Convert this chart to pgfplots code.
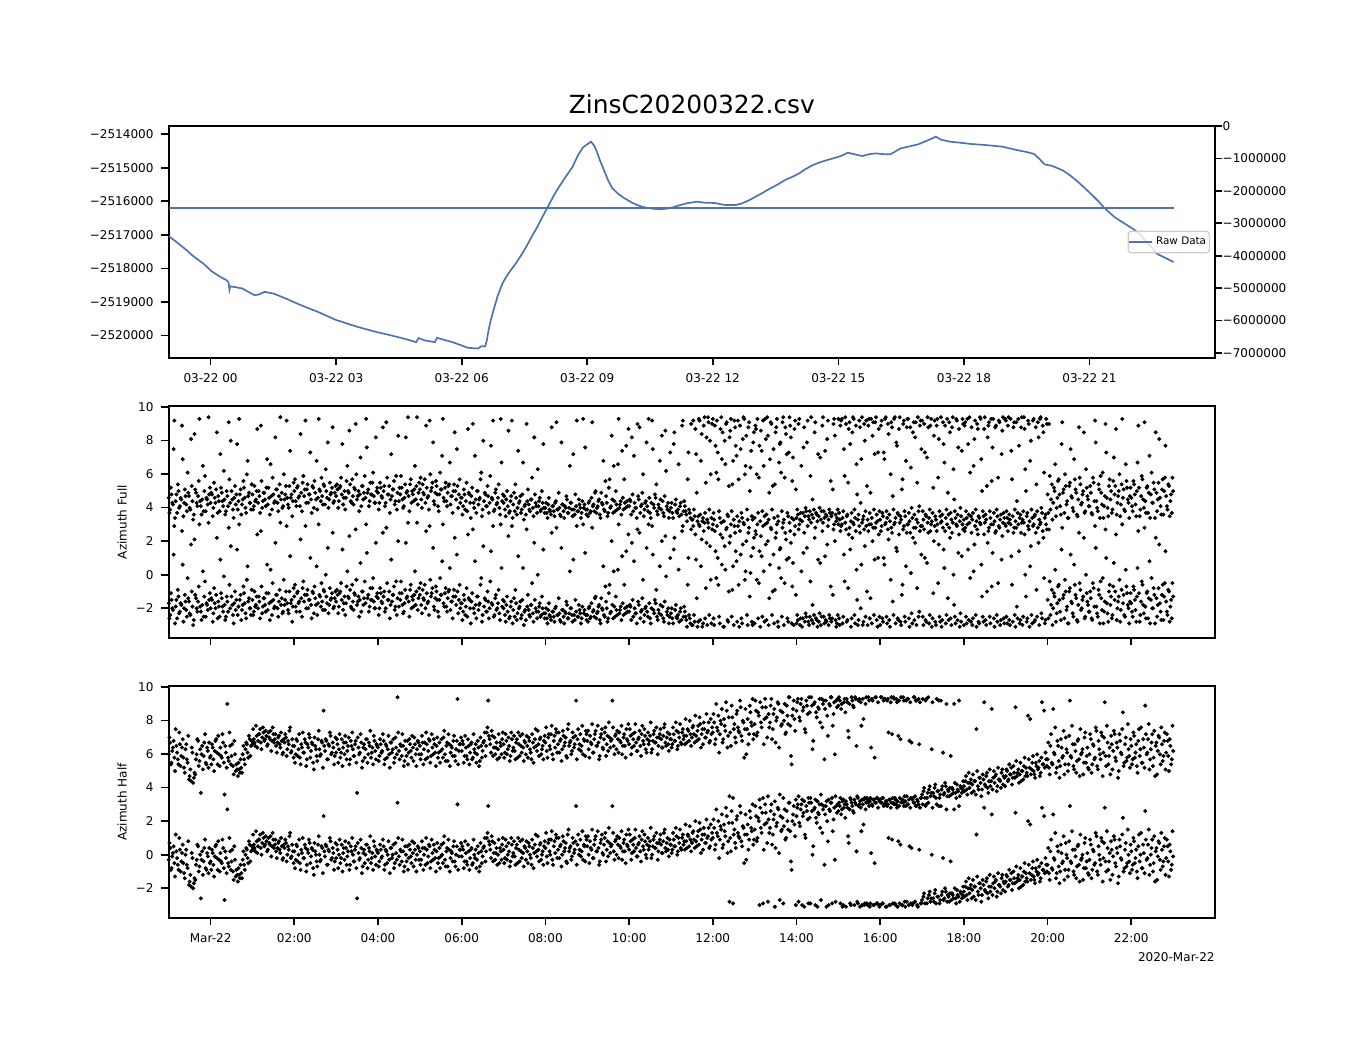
\documentclass[border=0pt]{standalone}
\usepackage{fontspec}
\setmainfont{DejaVu Sans}
\usepackage{pgfplots}
\usepackage{pgfplotstable}
\pgfplotsset{compat=1.18}
\definecolor{sb}{HTML}{4C72B0}
\newcommand\tf{\fontsize{5.8}{7}\selectfont}

\pgfplotstableread{
t f h
-60 -1.7 -0.3
-58 -2.4 0.4
-56 -1.5 -0.8
-54 -2.1 0.1
-52 2.9 -0.5
-50 -1.9 1.2
-48 -2.6 -0.2
-46 -1.3 -0.9
-44 -2.2 0.3
-42 -1.8 -0.4
-40 0.6 0.6
-38 -2.0 -1.1
-36 -1.6 0.0
-34 -2.5 -0.6
-32 -1.4 0.8
-30 -2.3 -1.6
-28 1.8 -1.9
-26 -1.9 -0.2
-24 -2.7 -1.7
-22 -1.2 -1.5
-20 -2.0 -0.3
-18 -1.6 0.5
-16 3.0 -0.7
-14 -2.2 -2.6
-12 -1.8 0.2
-10 -2.5 -0.4
-8 -0.4 0.9
-6 -1.7 -0.9
-4 -2.1 -0.1
-2 -1.5 0.4
0 -2.0 -0.4
2 -1.5 0.3
4 -2.3 -0.6
6 -1.7 -0.1
8 -1.2 0.6
10 -2.6 -0.9
12 -1.9 -0.3
14 0.9 0.1
16 -1.4 -0.5
18 -2.2 0.4
20 -1.8 -2.7
22 -2.5 -0.2
24 -1.6 2.7
26 2.8 -0.7
28 -2.0 0.2
30 -1.3 -0.4
32 -2.4 -1.0
34 -1.7 0.5
36 -2.1 -1.3
38 1.5 -1.2
40 -1.9 -0.8
42 -1.5 -1.4
44 -2.7 -1.1
46 -1.8 -0.3
48 -1.1 -0.6
50 -2.3 0.0
52 -0.3 0.3
54 -1.6 -0.5
56 -2.0 0.6
58 -2.4 0.2
60 -1.5 0.3
62 -2.2 0.6
64 -1.9 0.2
66 -1.3 0.8
68 -2.0 0.5
70 -1.6 0.9
72 2.6 0.4
74 -2.3 0.7
76 -1.4 1.0
78 -1.8 0.6
80 -1.1 0.8
82 -2.1 0.3
84 -1.7 0.7
86 0.3 1.1
88 -2.4 0.5
90 -1.5 0.9
92 -1.9 0.6
94 -1.2 0.2
96 -2.0 0.4
98 -1.6 0.8
100 3.1 0.1
102 -1.4 0.5
104 -2.2 -0.2
106 -1.8 0.4
108 -1.0 0.7
110 -1.7 0.0
112 -2.3 0.3
114 1.1 1.3
116 -1.5 -0.1
118 -1.9 0.2
120 -1.3 0.2
122 -1.9 -0.3
124 -1.1 0.5
126 -1.7 0.0
128 -2.2 -0.5
130 -1.4 0.3
132 -0.8 1.0
134 -1.6 -0.2
136 2.9 0.4
138 -1.2 -0.6
140 -2.0 0.1
142 -1.5 0.7
144 -1.8 -0.1
146 -1.0 0.3
148 -2.3 -1.2
150 -1.4 0.2
152 0.5 -0.4
154 -1.7 0.6
156 -1.2 0.0
158 -1.9 -0.3
160 -1.6 0.4
162 -0.9 2.3
164 -2.1 -0.1
166 -1.3 0.5
168 1.6 -0.6
170 -1.8 0.2
172 -1.5 0.8
174 -1.1 -0.2
176 -2.0 0.1
178 -1.4 -0.4
180 -1.6 -0.2
182 -1.2 0.3
184 -1.9 0.0
186 -1.0 -0.5
188 -1.5 0.6
190 -2.1 0.1
192 -1.3 -0.3
194 -1.7 0.4
196 0.2 -0.1
198 -1.4 0.7
200 -0.9 -0.6
202 -2.0 0.2
204 -1.6 0.0
206 -1.1 -0.4
208 2.7 0.5
210 -1.8 -2.6
212 -1.3 0.1
214 -1.5 -0.2
216 -2.2 0.4
218 -1.0 -0.7
220 -1.4 0.3
222 -1.7 0.0
224 1.3 0.6
226 -1.2 -0.3
228 -1.9 0.2
230 -1.5 -0.5
232 -0.8 0.1
234 -1.6 0.8
236 -2.0 -0.1
238 -1.3 0.3
240 -1.4 0.1
242 -2.0 -0.4
244 -1.1 0.3
246 -1.7 -0.1
248 -1.3 0.5
250 -2.2 -0.6
252 2.8 0.2
254 -1.5 0.0
256 -1.0 -0.3
258 -1.8 0.4
260 -1.6 -0.2
262 -1.2 0.6
264 -2.1 -0.5
266 -0.4 0.1
268 -1.4 3.1
270 -1.9 -0.1
272 -1.5 0.3
274 -1.1 -0.4
276 -2.3 0.2
278 -1.7 -0.7
280 1.9 0.0
282 -1.3 0.5
284 -1.6 -0.2
286 -0.9 0.3
288 -2.0 -0.5
290 -1.5 0.1
292 -1.2 0.7
294 -1.8 -0.3
296 3.1 0.0
298 -1.4 0.4
300 -1.2 0.2
302 -1.8 -0.3
304 -0.9 0.4
306 -1.5 0.0
308 -2.0 -0.6
310 -1.1 0.3
312 -1.6 -0.1
314 2.9 0.5
316 -1.3 -0.4
318 -0.8 0.1
320 -1.9 0.6
322 -1.4 -0.2
324 -1.0 0.2
326 -2.2 -0.5
328 -1.5 0.4
330 -1.2 -0.1
332 0.8 0.0
334 -1.7 0.7
336 -1.1 -0.3
338 -1.9 0.2
340 -1.4 -0.7
342 -0.9 0.3
344 -2.1 -0.2
346 -1.6 0.1
348 -1.3 0.5
350 2.2 -0.4
352 -1.8 0.0
354 -1.0 3.0
356 -1.5 -0.1
358 -2.0 0.3
360 -1.7 -0.1
362 -2.2 0.3
364 -1.5 -0.4
366 -1.9 0.1
368 -2.5 -0.6
370 -1.4 0.2
372 -2.0 -0.2
374 -1.6 0.4
376 2.7 -0.5
378 -2.3 0.0
380 -1.8 0.3
382 -1.3 -0.3
384 -2.1 0.1
386 -1.7 -0.7
388 -0.2 0.2
390 -2.4 -0.1
392 -1.9 0.5
394 -1.5 -0.4
396 -2.2 1.0
398 -1.6 2.9
400 -2.0 0.6
402 1.4 -0.2
404 -1.8 0.8
406 -2.5 0.1
408 -1.4 -0.3
410 -2.1 0.4
412 -1.7 0.0
414 -2.3 -0.5
416 3.0 0.2
418 -1.9 0.6
420 -2.0 0.3
422 -2.4 -0.2
424 -1.8 0.5
426 -2.2 0.0
428 -2.6 0.2
430 -1.9 -0.4
432 2.9 0.6
434 -2.1 0.1
436 -2.5 -0.1
438 -1.7 0.4
440 -2.3 -0.5
442 -2.0 0.3
444 -1.6 0.8
446 -2.4 -0.2
448 0.4 0.1
450 -2.2 0.5
452 -2.7 -0.3
454 -1.9 0.2
456 -2.1 0.7
458 -2.5 0.0
460 -1.8 -0.6
462 -2.3 0.4
464 1.9 0.1
466 -2.0 1.2
468 -2.6 -0.1
470 -2.2 0.3
472 -1.7 0.6
474 -2.4 -0.3
476 -2.0 0.2
478 -2.3 0.5
480 -2.3 0.4
482 -2.6 -0.1
484 -2.1 0.7
486 -2.4 0.2
488 -2.7 0.9
490 -2.2 -0.3
492 -2.5 0.5
494 -2.0 0.1
496 2.8 1.0
498 -2.4 0.3
500 -2.3 -0.2
502 -2.8 0.6
504 -2.1 0.0
506 -2.5 0.8
508 -2.2 0.4
510 -1.6 -0.4
512 -2.6 1.2
514 -2.3 0.2
516 -2.0 0.5
518 -2.4 -0.1
520 0.9 0.7
522 -2.7 0.3
524 -2.2 2.9
526 -2.5 0.6
528 -1.8 0.0
530 -2.3 0.9
532 -2.6 0.2
534 3.0 -0.3
536 -2.1 0.5
538 -2.4 1.1
540 -2.4 0.5
542 -2.0 0.0
544 -2.6 0.8
546 -1.7 0.3
548 -2.2 -0.2
550 -2.5 0.6
552 -1.3 1.1
554 -2.3 0.2
556 -1.9 0.4
558 -2.7 -0.4
560 -1.4 0.9
562 -2.1 0.1
564 -2.4 0.6
566 -0.7 1.3
568 -2.0 0.3
570 -2.6 -0.1
572 -0.6 0.7
574 -2.2 0.5
576 -1.8 2.9
578 0.2 0.2
580 -2.5 0.8
582 -2.1 0.0
584 0.3 0.6
586 -2.3 1.0
588 -1.9 0.4
590 1.1 -0.3
592 -2.4 0.7
594 -2.0 0.2
596 1.4 1.2
598 -2.2 0.5
600 -2.2 0.3
602 -1.9 0.8
604 1.9 0.1
606 -2.5 0.6
608 -2.0 1.0
610 -2.3 0.4
612 2.7 -0.1
614 -1.8 0.7
616 -2.6 0.2
618 -2.1 0.9
620 -0.3 0.5
622 -2.4 1.2
624 -1.9 0.0
626 -2.2 0.6
628 3.0 0.3
630 -2.6 0.8
632 -2.0 -0.2
634 1.2 0.5
636 -2.3 1.1
638 -1.7 0.4
640 -2.5 0.7
642 -2.1 0.2
644 0.5 0.9
646 -2.4 0.6
648 -1.9 0.1
650 -2.8 1.3
652 2.3 0.4
654 -2.2 0.7
656 -2.0 0.3
658 -2.5 0.9
660 -2.3 0.6
662 -2.6 0.3
664 1.5 0.9
666 -2.1 0.5
668 -2.5 1.1
670 -2.4 0.2
672 -2.8 0.7
674 -2.0 0.4
676 2.6 1.0
678 -2.5 0.6
680 -2.2 0.3
682 -2.7 0.8
684 -0.6 1.2
686 -2.4 0.5
688 -2.9 0.9
690 -3.0 0.7
692 2.9 1.4
694 -2.8 0.4
696 0.9 0.8
698 -3.1 1.1
700 3.0 0.6
702 -2.7 1.5
704 2.1 0.9
706 -2.9 0.3
708 3.1 1.2
710 -0.8 0.7
712 -3.0 1.0
714 2.8 1.6
716 1.7 0.5
718 -2.9 0.9
720 3.0 1.0
722 -3.0 1.6
724 1.4 0.6
726 2.9 1.3
728 -0.6 2.0
730 -2.9 0.9
732 3.1 1.5
734 2.2 0.4
736 -3.1 1.8
738 0.3 1.1
740 2.8 2.3
742 -2.8 0.8
744 1.9 -2.8
746 3.0 0.2
748 -0.9 1.9
750 -3.0 1.2
752 2.5 0.7
754 0.8 2.1
756 2.9 1.3
758 -3.1 1.0
760 1.2 2.5
762 -2.9 0.5
764 3.1 1.6
766 -0.3 1.2
768 2.0 -0.3
770 -3.0 1.8
772 2.8 0.9
774 0.1 2.2
776 -2.8 1.4
778 1.6 0.6
780 -2.9 1.5
782 2.4 2.3
784 3.0 1.0
786 -0.5 2.0
788 -3.1 2.8
790 1.1 1.3
792 2.9 -2.9
794 -2.8 1.8
796 1.8 2.5
798 3.1 0.7
800 -3.0 2.1
802 0.6 1.6
804 2.7 3.0
806 -1.0 1.2
808 -2.9 2.4
810 2.2 0.4
812 3.0 1.9
814 -3.1 2.7
816 1.5 -2.7
818 -0.2 1.4
820 2.8 2.2
822 -3.0 1.7
824 2.5 0.9
826 0.9 2.6
828 -2.8 1.5
830 3.1 3.1
832 1.9 -0.4
834 -0.7 2.0
836 -3.0 2.9
838 2.9 1.1
840 -2.9 2.3
842 -2.7 3.0
844 3.0 1.9
846 -2.6 2.7
848 -3.1 -3.0
850 1.3 2.5
852 -2.8 1.2
854 -2.5 2.9
856 2.9 2.1
858 -3.0 3.1
860 -0.4 -2.9
862 -2.7 2.6
864 -2.9 0.5
866 2.2 2.8
868 -2.6 2.2
870 -3.1 -3.1
872 -2.8 2.4
874 0.7 1.6
876 -2.5 3.0
878 3.1 2.7
880 -2.9 -0.6
882 -2.7 2.9
884 1.8 2.0
886 -3.0 -3.0
888 -2.6 2.6
890 -2.8 3.1
892 -1.2 1.4
894 3.0 2.8
896 -2.7 -2.8
898 -2.9 2.5
900 3.0 2.6
902 -3.0 2.9
904 2.9 2.4
906 -2.9 -3.1
908 1.2 2.8
910 3.1 2.2
912 -2.8 3.0
914 -0.8 1.1
916 2.8 2.7
918 -3.1 -3.0
920 2.2 2.9
922 3.0 2.5
924 -2.9 3.1
926 0.3 0.2
928 -3.0 -2.9
930 2.9 3.0
932 -2.0 2.8
934 3.1 -3.0
936 -2.8 1.8
938 1.7 -2.9
940 2.9 3.1
942 -3.0 -3.0
944 3.0 2.9
946 -1.4 -2.9
948 -2.9 3.0
950 2.8 -3.0
952 0.9 -0.5
954 3.1 3.1
956 -3.1 -2.9
958 2.4 -3.0
960 -3.0 -3.0
962 2.9 3.1
964 -2.8 -2.9
966 0.6 3.0
968 3.1 -3.1
970 -2.9 2.9
972 2.1 1.0
974 -3.1 -3.0
976 2.8 3.1
978 -1.6 -2.9
980 3.0 3.0
982 -2.9 -3.0
984 1.4 2.8
986 -2.7 0.8
988 3.1 -2.9
990 -3.0 3.1
992 -0.6 -3.0
994 2.9 2.9
996 -2.8 -3.1
998 2.5 -2.8
1000 3.0 3.0
1002 -3.1 0.5
1004 0.1 -2.9
1006 -2.9 -3.0
1008 2.8 3.1
1010 1.9 -2.8
1012 -3.0 2.9
1014 3.1 -3.1
1016 -2.2 0.3
1018 2.9 -2.9
1020 2.9 -2.7
1022 -3.0 -2.5
1024 1.0 -2.9
1026 -2.8 3.0
1028 3.1 -2.6
1030 -2.9 -2.4
1032 2.6 -2.8
1034 -3.1 0.0
1036 -1.1 -2.6
1038 2.9 -2.3
1040 -3.0 -2.9
1042 3.0 -2.5
1044 1.8 2.9
1046 -2.8 -2.7
1048 -3.1 -2.4
1050 2.8 -0.2
1052 0.4 -2.6
1054 -2.9 -2.2
1056 3.0 -2.8
1058 -2.7 -2.5
1060 2.2 -2.3
1062 -3.0 -2.7
1064 3.1 -2.4
1066 -1.8 2.7
1068 -2.9 -2.6
1070 2.9 -2.1
1072 1.3 -2.5
1074 -3.1 -2.8
1076 -2.8 -2.3
1078 3.0 -2.4
1080 -3.0 -2.2
1082 2.8 -1.9
1084 -2.9 -2.4
1086 1.5 -2.0
1088 3.1 -2.3
1090 -2.8 -1.8
1092 -3.0 -2.1
1094 0.2 -2.5
1096 2.9 -1.9
1098 -3.1 1.2
1100 2.4 -2.2
1102 -2.9 -1.7
1104 3.0 -2.0
1106 -1.3 -2.4
1108 -2.8 -1.8
1110 3.1 -2.1
1112 -3.0 -1.6
1114 1.9 -2.3
1116 2.8 -1.9
1118 -2.9 -2.2
1120 -0.7 2.4
1122 3.0 -1.7
1124 -3.1 -2.0
1126 2.6 -1.5
1128 -2.8 -2.2
1130 2.9 -1.8
1132 -3.0 -1.9
1134 0.9 -1.4
1136 3.1 -2.1
1138 -2.9 -1.7
1140 2.9 -1.6
1142 -2.9 -1.3
1144 3.1 -1.8
1146 -3.0 -1.5
1148 1.1 -1.1
1150 -2.8 -1.7
1152 2.8 -1.4
1154 -3.1 2.5
1156 -1.9 -1.6
1158 3.0 -1.2
1160 -2.9 -1.5
1162 2.5 -1.9
1164 -3.0 -1.3
1166 3.1 -1.0
1168 0.0 -1.6
1170 -2.8 -1.4
1172 2.9 2.0
1174 -3.1 -1.1
1176 1.7 -1.5
1178 -2.9 -0.8
1180 3.0 -1.3
1182 -2.7 -1.7
1184 -0.9 -1.0
1186 2.8 -1.2
1188 -3.0 -0.7
1190 3.1 -1.4
1192 -2.6 2.8
1194 2.2 -0.9
1196 -2.9 -1.1
1198 3.0 -0.6
1200 -1.5 -0.6
1202 2.7 -1.1
1204 -2.4 0.2
1206 -0.9 -0.8
1208 -2.0 2.4
1210 -1.3 -0.3
1212 -2.8 -1.4
1214 -1.7 0.5
1216 -0.6 -0.7
1218 -2.2 -1.0
1220 1.5 0.1
1222 -1.4 -0.4
1224 -2.6 -1.5
1226 -1.0 0.7
1228 -1.9 -0.2
1230 -2.9 -0.9
1232 -0.8 2.9
1234 -1.6 -0.5
1236 -2.3 0.3
1238 0.6 -1.2
1240 -1.2 -0.1
1242 -2.7 -0.7
1244 -1.8 0.6
1246 -0.5 -1.6
1248 -2.1 -0.3
1250 -1.5 0.0
1252 2.2 -0.8
1254 -2.5 1.0
1256 -1.1 -0.4
1258 -1.8 -1.1
1260 -2.2 -0.3
1262 -1.4 0.6
1264 -2.7 -0.9
1266 -0.8 0.2
1268 2.9 -0.5
1270 -1.9 1.1
1272 -2.5 -1.2
1274 -1.2 0.0
1276 -0.4 -0.6
1278 -2.1 0.8
1280 -2.9 -0.2
1282 -1.6 2.8
1284 1.0 -1.0
1286 -2.3 0.4
1288 -1.0 -0.4
1290 -1.8 -1.5
1292 -2.6 0.3
1294 -0.7 -0.1
1296 -1.5 0.9
1298 2.4 -0.7
1300 -2.0 0.1
1302 -1.3 -1.3
1304 -2.8 0.5
1306 -0.9 -0.3
1308 -1.7 2.2
1310 -2.4 -0.8
1312 0.3 0.7
1314 -1.1 -0.5
1316 -2.0 0.0
1318 -1.6 -1.1
1320 -1.7 0.2
1322 -2.5 -0.6
1324 -0.9 0.8
1326 -2.1 -0.2
1328 -1.3 -1.0
1330 2.6 0.5
1332 -2.8 -0.4
1334 -1.6 1.3
1336 -0.6 -0.8
1338 -2.3 0.1
1340 -1.9 2.6
1342 -1.1 -0.3
1344 -2.6 0.6
1346 0.8 -1.2
1348 -1.5 0.0
1350 -2.0 0.9
1352 -0.8 -0.5
1354 -2.9 -1.6
1356 -1.4 0.4
1358 -1.8 -0.1
1360 1.8 0.7
1362 -2.2 -0.9
1364 -1.2 0.3
1366 -2.7 -0.4
1368 -0.5 1.0
1370 -1.6 -0.2
1372 -2.4 0.5
1374 -1.0 -1.3
1376 -1.9 0.2
1378 -2.6 -0.6
1380 -1.3 -0.1
-59 -2.6 0.7
-57 -1.1 -0.9
-55 -2.0 -0.1
-53 1.2 0.5
-51 -2.9 -1.3
-49 -1.5 0.2
-47 -0.9 -0.6
-45 -2.3 1.0
-43 -1.7 -1.0
-41 2.6 0.1
-39 -2.8 -0.5
-37 -1.2 -1.4
-35 -2.1 0.3
-33 -0.2 -0.8
-31 -1.6 -1.8
-29 -2.4 -1.2
-27 -1.0 0.1
-25 -3.0 -2.0
-23 2.1 -1.4
-21 -1.4 -0.6
-19 -2.2 0.6
-17 -0.7 -1.0
-15 -1.9 0.0
-13 -2.7 -0.3
-11 0.2 -1.2
-9 -1.3 0.4
-7 -2.5 -0.8
-5 -1.8 0.1
-3 3.1 -1.1
-1 -1.1 -0.5
1 -1.4 -0.9
3 -2.8 0.1
5 -0.8 -1.3
7 -2.0 0.5
9 2.2 -0.2
11 -1.6 0.8
13 -2.5 -1.0
15 -1.1 -0.4
17 -1.9 0.9
19 -0.1 -0.8
21 -2.7 0.2
23 -1.3 -1.1
25 -2.2 -0.5
27 -0.6 1.0
29 1.7 -0.9
31 -1.8 0.3
33 -2.9 -1.5
35 -1.0 -0.3
37 -1.5 -0.9
39 -2.4 -1.6
41 3.0 -1.2
43 -1.2 -0.6
45 -2.1 -1.4
47 -0.7 0.2
49 -1.7 -0.9
51 -2.6 0.4
53 0.5 -0.2
55 -1.4 0.8
57 -2.0 -0.4
59 -0.9 0.5
61 -2.4 1.2
63 -1.0 0.4
65 -1.8 1.4
67 2.4 0.1
69 -1.3 0.9
71 -2.6 1.2
73 -0.7 0.0
75 -1.9 1.3
77 -1.4 0.5
79 -2.2 1.1
81 0.6 0.2
83 -1.1 1.0
85 -2.7 0.6
87 -1.6 -0.1
89 -0.5 1.3
91 -2.0 0.4
93 1.9 0.9
95 -1.2 -0.2
97 -2.5 0.7
99 -0.9 0.3
101 -1.8 1.0
103 -2.3 -0.3
105 -0.3 0.6
107 -1.5 0.9
109 2.9 -0.4
111 -2.1 0.5
113 -1.0 1.1
115 -1.7 -0.2
117 -2.8 0.6
119 -0.8 -0.5
121 -0.6 -0.8
123 -2.2 0.6
125 -1.0 -0.4
127 -1.6 0.9
129 2.1 -0.9
131 -2.5 0.1
133 -0.4 -0.2
135 -1.2 0.6
137 -2.0 -1.0
139 -0.9 0.3
141 -1.5 0.9
143 1.0 -0.5
145 -2.6 0.4
147 -1.1 -0.8
149 -0.7 0.7
151 -1.8 0.0
153 -2.4 -0.7
155 3.0 1.1
157 -1.3 -0.4
159 -0.5 0.5
161 -2.1 -1.1
163 -1.0 0.2
165 0.0 0.6
167 -1.7 -0.6
169 -2.3 0.3
171 -0.8 1.0
173 -1.4 -0.3
175 2.5 0.4
177 -1.9 -0.9
179 -1.0 0.7
181 -0.9 0.6
183 -2.3 -0.8
185 -1.1 0.9
187 -0.5 -0.2
189 1.5 -1.0
191 -1.7 0.4
193 -2.4 0.8
195 -0.7 -0.6
197 -1.3 0.2
199 2.3 -0.9
201 -1.9 0.5
203 -0.6 1.0
205 -2.1 -0.4
207 -1.2 0.3
209 -0.3 -0.8
211 -1.6 0.7
213 -2.5 -0.3
215 0.7 0.9
217 -1.0 -1.1
219 -1.8 0.1
221 -0.4 -0.5
223 3.0 0.6
225 -1.4 -0.8
227 -2.2 0.4
229 -0.8 1.1
231 -1.5 -0.2
233 -0.2 -0.9
235 -2.0 0.5
237 1.9 -0.6
239 -1.1 0.2
241 -2.4 -0.7
243 -0.8 0.6
245 -1.6 -0.2
247 2.5 0.9
249 -1.0 -0.9
251 -2.0 0.3
253 -0.5 -0.5
255 -1.5 0.8
257 -2.6 -1.1
259 0.9 0.4
261 -1.2 0.0
263 -0.7 -0.8
265 -1.9 0.7
267 -2.4 -0.3
269 2.0 1.0
271 -1.1 -0.6
273 -0.4 0.2
275 -1.8 0.9
277 -2.2 -1.0
279 -0.9 0.5
281 -1.4 -0.4
283 3.1 -0.9
285 -2.5 0.6
287 -0.6 -0.1
289 -1.3 0.8
291 -1.9 -0.7
293 0.2 0.3
295 -1.0 -1.0
297 -2.1 0.5
299 -0.8 -0.3
301 -0.5 -0.6
303 -2.3 0.8
305 -1.4 -0.9
307 -0.6 0.4
309 2.6 1.0
311 -1.7 -0.5
313 -2.4 0.6
315 -0.3 -0.8
317 -1.1 0.9
319 1.6 -0.3
321 -2.1 0.3
323 -0.7 -1.0
325 -1.5 0.7
327 -2.5 -0.2
329 -0.2 -0.8
331 -1.2 0.6
333 3.0 -0.5
335 -1.9 1.1
337 -0.8 -0.7
339 -2.2 0.4
341 -1.0 0.9
343 0.4 -1.0
345 -1.6 0.2
347 -2.6 -0.4
349 -0.9 0.8
351 -1.3 -0.7
353 1.2 0.5
355 -2.3 -0.9
357 -0.6 0.3
359 -1.7 0.7
361 -2.7 0.5
363 -1.2 -0.8
365 -2.4 0.8
367 -0.8 -0.4
369 2.4 0.6
371 -1.5 -0.9
373 -2.9 0.3
375 -1.1 -0.6
377 -2.0 0.9
379 0.8 -0.2
381 -2.6 -0.8
383 -1.3 0.5
385 -1.8 -1.0
387 -0.6 0.7
389 -2.8 -0.5
391 1.7 0.4
393 -1.4 1.0
395 -2.2 0.2
397 -1.0 1.3
399 -2.6 0.8
401 -0.4 0.3
403 -1.7 1.1
405 2.9 -0.4
407 -2.4 0.7
409 -1.2 0.1
411 -2.0 -0.6
413 -0.9 0.9
415 -2.7 0.4
417 0.4 -0.3
419 -1.5 1.0
421 -1.6 -0.5
423 -2.8 0.9
425 -1.3 -0.3
427 2.3 0.7
429 -2.5 -0.7
431 -1.6 1.0
433 -2.9 -0.1
435 -1.4 0.8
437 -0.9 -0.6
439 -2.7 0.6
441 1.1 1.0
443 -1.9 -0.4
445 -2.6 0.2
447 -1.5 0.9
449 -3.0 -0.7
451 -2.1 0.4
453 2.7 0.8
455 -1.2 -0.5
457 -2.4 0.5
459 -1.8 -0.2
461 -0.5 0.9
463 -2.8 -0.8
465 -1.5 0.6
467 -2.2 0.2
469 0.0 1.1
471 -1.9 -0.4
473 -2.5 0.7
475 -1.3 0.0
477 1.5 -0.6
479 -2.6 0.8
481 -2.0 1.3
483 -2.9 -0.5
485 -1.7 0.9
487 -2.5 0.0
489 2.5 1.4
491 -2.2 -0.6
493 -2.8 0.8
495 -1.9 1.2
497 -2.4 -0.2
499 -1.4 1.0
501 -2.7 0.5
503 1.6 -0.7
505 -2.1 1.1
507 -2.9 0.2
509 -2.3 0.7
511 -1.8 -0.5
513 -2.6 1.5
515 0.2 0.4
517 -2.0 -0.3
519 -2.8 1.0
521 -2.4 0.1
523 -1.5 0.8
525 2.9 -0.6
527 -2.5 1.2
529 -2.1 0.3
531 -2.9 -0.1
533 -1.9 1.4
535 -2.3 0.6
537 1.3 -0.4
539 -2.7 0.9
541 -2.8 1.1
543 -1.9 -0.5
545 -2.5 0.4
547 2.8 1.5
549 -2.1 -0.2
551 -1.4 0.9
553 -2.6 0.2
555 -2.2 1.4
557 -1.8 -0.6
559 -2.9 0.7
561 -2.0 1.2
563 0.5 0.0
565 -2.5 1.0
567 -1.6 -0.4
569 -2.8 0.8
571 -1.1 1.6
573 -2.3 0.1
575 2.0 0.6
577 -2.6 1.3
579 -1.9 -0.3
581 -1.3 0.9
583 -2.4 1.1
585 3.0 -0.2
587 -2.1 0.5
589 -2.7 1.4
591 -1.7 0.2
593 -0.6 0.9
595 -2.3 -0.5
597 -1.9 0.6
599 2.4 1.5
601 -1.8 1.2
603 -2.7 -0.3
605 -1.5 0.9
607 0.8 0.2
609 -2.3 1.5
611 -2.9 -0.1
613 -1.6 0.6
615 2.5 1.1
617 -2.2 -0.4
619 -1.4 1.4
621 -2.8 0.3
623 -2.0 0.8
625 1.6 -0.2
627 -2.5 1.0
629 -1.7 0.5
631 -2.9 1.6
633 2.9 0.0
635 -2.1 0.9
637 -1.5 0.4
639 -0.9 1.3
641 -2.7 -0.3
643 -2.3 0.7
645 -1.8 1.2
647 2.0 0.1
649 -2.6 0.8
651 -1.6 1.5
653 -0.1 0.2
655 -2.4 1.0
657 -2.9 -0.1
659 1.0 0.6
661 -2.0 0.1
663 -2.9 1.3
665 2.2 0.5
667 -1.8 1.6
669 -2.6 0.0
671 0.3 1.0
673 -2.2 1.5
675 -2.7 0.3
677 2.9 1.2
679 -1.9 0.8
681 -2.5 1.8
683 -3.1 0.4
685 1.0 1.1
687 -2.6 1.7
689 2.7 0.2
691 -3.0 1.3
693 -2.4 0.9
695 2.4 2.0
697 -1.4 0.5
699 -2.8 1.4
701 2.9 1.9
703 0.5 0.1
705 -3.1 1.2
707 2.6 1.6
709 -2.6 0.7
711 1.9 2.1
713 3.1 1.1
715 -2.4 0.4
717 -0.3 1.8
719 2.7 1.3
721 -2.6 2.1
723 2.6 0.3
725 -0.2 2.7
727 1.0 1.1
729 -2.5 -0.2
731 2.4 1.7
733 0.6 2.4
735 -3.1 0.6
737 1.7 1.4
739 2.7 2.8
741 -2.7 0.1
743 -1.0 1.9
745 2.3 1.0
747 -2.5 2.6
749 0.5 -2.9
751 2.9 1.5
753 1.4 0.4
755 -2.8 2.3
757 -0.6 1.1
759 2.6 2.9
761 -2.6 0.8
763 1.8 1.7
765 3.0 -0.5
767 0.2 2.4
769 -2.4 1.2
771 2.5 0.3
773 -1.3 2.6
775 1.1 1.6
777 -3.0 3.0
779 2.2 0.9
781 2.6 2.9
783 -0.3 0.8
785 -2.6 2.2
787 1.4 -3.0
789 2.3 1.6
791 -2.5 2.5
793 0.2 0.3
795 3.0 3.0
797 -2.7 1.9
799 2.0 -2.8
801 -1.4 1.3
803 2.8 2.6
805 -2.4 0.6
807 1.2 2.1
809 -0.9 -3.1
811 2.5 1.7
813 -2.8 2.8
815 0.4 0.1
817 1.6 2.3
819 -2.5 1.5
821 3.1 -2.9
823 -0.5 2.7
825 2.1 1.0
827 -2.6 2.0
829 1.0 3.1
831 2.6 1.4
833 -2.9 -0.9
835 0.7 2.4
837 2.4 1.8
839 -1.2 -3.0
841 -2.4 2.8
843 2.7 -2.8
845 -3.0 1.7
847 0.2 3.0
849 -2.6 2.3
851 2.5 -3.1
853 -2.3 1.0
855 1.6 2.6
857 -2.8 -2.9
859 -2.5 2.2
861 3.1 3.1
863 -1.8 0.0
865 -2.4 2.7
867 2.8 -3.0
869 -2.7 1.9
871 0.9 2.5
873 -2.3 3.0
875 -3.0 -2.7
877 2.6 1.3
879 -2.5 2.9
881 1.1 2.4
883 -2.8 -3.1
885 2.9 0.8
887 -2.4 2.7
889 -0.7 3.1
891 -2.6 -2.9
893 2.7 2.1
895 2.0 -0.3
897 -3.1 2.9
899 -2.4 3.0
901 -2.6 3.1
903 2.6 -2.9
905 3.0 2.7
907 -2.5 -3.0
909 -0.4 3.0
911 2.7 -3.1
913 -2.7 2.8
915 2.4 0.7
917 1.5 -2.9
919 -2.6 3.1
921 3.1 2.6
923 -2.4 -3.0
925 2.6 3.0
927 -1.5 -2.8
929 -2.7 2.9
931 2.5 -3.1
933 0.6 1.4
935 -3.0 3.0
937 2.7 -3.0
939 -2.5 2.7
941 -1.0 -2.9
943 2.6 3.1
945 -2.6 -3.1
947 3.0 0.1
949 2.0 2.9
951 -2.4 -3.0
953 2.8 3.1
955 -2.7 -2.9
957 1.0 2.8
959 -2.5 -3.1
961 2.6 3.1
963 -2.6 -2.9
965 1.0 2.9
967 3.0 3.0
969 -2.5 -3.1
971 2.7 3.0
973 -2.7 -3.0
975 -0.3 2.8
977 2.5 0.9
979 -2.4 3.1
981 3.1 -2.9
983 1.6 3.0
985 -2.6 -3.1
987 2.4 2.9
989 -2.8 0.6
991 -1.2 -3.0
993 2.7 3.1
995 -2.5 -2.8
997 0.5 2.9
999 3.0 3.0
1001 -2.6 -3.0
1003 2.5 2.8
1005 -2.3 0.4
1007 2.2 -2.9
1009 -2.7 3.1
1011 2.8 2.9
1013 -0.8 -3.0
1015 -2.5 3.0
1017 2.6 2.8
1019 1.2 -2.9
1021 -2.5 3.0
1023 2.7 -2.3
1025 -2.7 2.9
1027 0.7 -2.9
1029 2.5 3.1
1031 -2.4 -2.2
1033 3.0 -2.6
1035 -2.6 2.8
1037 2.0 -2.8
1039 -2.8 -2.1
1041 2.6 3.0
1043 -0.5 -2.5
1045 -2.5 -2.9
1047 3.1 2.9
1049 -2.7 -2.2
1051 1.5 -2.7
1053 2.6 -2.0
1055 -2.4 2.7
1057 -1.4 -2.4
1059 2.8 -2.8
1061 -2.6 -0.4
1063 2.5 -2.3
1065 0.0 -2.6
1067 -2.5 -2.0
1069 3.0 -2.9
1071 -2.7 -2.4
1073 2.4 2.9
1075 -2.3 -2.2
1077 1.1 -2.6
1079 2.7 -1.9
1081 2.6 -2.5
1083 -2.5 -1.6
1085 3.0 -2.7
1087 -2.7 -1.4
1089 -0.2 -2.0
1091 2.5 -2.6
1093 -2.6 -1.5
1095 1.8 -1.9
1097 -2.4 -2.7
1099 2.7 -1.3
1101 -2.8 -2.4
1103 3.1 -1.7
1105 0.6 -2.8
1107 -2.5 -1.5
1109 2.4 2.8
1111 -2.7 -2.2
1113 -1.0 -1.4
1115 2.6 -2.6
1117 -2.5 -1.2
1119 3.0 -1.9
1121 1.3 -2.4
1123 -2.6 -1.3
1125 2.5 -1.6
1127 -2.4 -2.5
1129 -0.5 -1.1
1131 2.8 -1.8
1133 -2.7 -2.3
1135 2.3 -1.2
1137 -2.6 -1.6
1139 3.0 -2.2
1141 -2.5 -1.2
1143 2.6 -1.9
1145 -2.7 -0.9
1147 3.0 -1.5
1149 -0.6 -2.1
1151 2.5 -1.0
1153 -2.4 -1.7
1155 2.8 -0.7
1157 -2.6 -1.4
1159 1.4 -2.0
1161 -2.7 -0.8
1163 3.1 -1.3
1165 -2.5 -1.8
1167 2.4 -0.5
1169 -1.3 -1.1
1171 -2.6 -1.6
1173 2.7 -0.6
1175 0.5 1.8
1177 -2.4 -1.2
1179 2.9 -0.4
1181 -2.8 -1.5
1183 2.5 -0.8
1185 -2.5 -0.3
1187 1.9 -1.1
1189 3.0 -1.6
1191 -2.3 -0.5
1193 2.6 -0.9
1195 -0.2 2.3
1197 -2.7 -0.2
1199 2.7 -1.0
1201 -2.6 0.4
1203 -0.4 -1.5
1205 -1.8 0.9
1207 -3.0 -0.9
1209 -1.1 -0.2
1211 0.3 1.3
1213 -2.3 -1.1
1215 -0.7 0.2
1217 -1.5 -1.7
1219 -2.7 0.6
1221 2.8 -0.5
1223 -1.2 1.1
1225 -0.3 -0.9
1227 -2.1 0.0
1229 -2.9 -1.3
1231 -1.0 0.8
1233 1.2 -0.4
1235 -1.7 1.4
1237 -2.5 -1.0
1239 -0.6 0.3
1241 -1.4 -1.4
1243 -2.8 0.5
1245 2.5 -0.6
1247 -0.9 1.2
1249 -2.0 -0.2
1251 -1.3 -1.5
1253 -2.6 0.7
1255 0.0 -0.8
1257 -1.6 0.1
1259 -2.2 -1.2
1261 -1.0 0.9
1263 -2.6 -1.4
1265 -0.5 0.3
1267 -1.9 -0.6
1269 1.6 1.3
1271 -2.3 -1.0
1273 -0.9 0.5
1275 -2.9 -0.3
1277 -1.4 1.0
1279 -0.2 -1.6
1281 -2.2 0.7
1283 2.7 -0.4
1285 -1.7 1.4
1287 -2.8 -0.9
1289 -0.6 0.1
1291 -1.3 0.8
1293 -2.4 -1.2
1295 0.7 1.1
1297 -1.0 -0.5
1299 -2.7 0.4
1301 -1.6 -1.7
1303 -0.3 0.9
1305 -2.1 -0.2
1307 3.0 1.2
1309 -1.2 -1.0
1311 -2.5 0.3
1313 -0.7 -0.7
1315 -1.8 1.5
1317 -2.9 -0.4
1319 -1.1 0.6
1321 -2.2 -0.9
1323 -0.7 1.0
1325 -1.5 -0.5
1327 -2.8 0.3
1329 0.4 -1.4
1331 -1.1 1.2
1333 -2.4 0.0
1335 -0.4 -0.8
1337 -1.8 0.6
1339 2.8 -1.1
1341 -2.6 0.9
1343 -1.0 -0.2
1345 -1.4 1.5
1347 -2.9 -0.6
1349 -0.2 0.4
1351 -2.0 -1.0
1353 -1.2 1.1
1355 2.2 0.2
1357 -2.5 -1.5
1359 -0.8 0.8
1361 -1.7 -0.3
1363 -2.7 1.3
1365 -0.6 -0.7
1367 -1.3 0.5
1369 1.4 -1.2
1371 -2.2 0.9
1373 -0.9 -0.4
1375 -2.8 0.6
1377 -1.5 -0.9
1379 -0.5 1.4
}\azdata

\pgfplotstableread{
t v
-1.00 -2517040
-0.85 -2517180
-0.72 -2517310
-0.58 -2517450
-0.44 -2517610
-0.30 -2517740
-0.15 -2517880
0.02 -2518080
0.20 -2518230
0.39 -2518360
0.43 -2518420
0.45 -2518640
0.47 -2518540
0.60 -2518560
0.76 -2518600
0.90 -2518700
1.05 -2518800
1.15 -2518780
1.29 -2518700
1.50 -2518750
1.80 -2518900
2.07 -2519050
2.30 -2519170
2.57 -2519300
2.80 -2519430
2.98 -2519530
3.20 -2519620
3.47 -2519730
3.70 -2519810
3.97 -2519900
4.25 -2519980
4.54 -2520070
4.75 -2520140
4.91 -2520200
4.97 -2520080
5.12 -2520150
5.36 -2520200
5.41 -2520070
5.60 -2520140
5.78 -2520200
6.00 -2520300
6.15 -2520370
6.39 -2520390
6.47 -2520320
6.56 -2520330
6.60 -2520150
6.64 -2519850
6.70 -2519520
6.76 -2519250
6.86 -2518820
6.97 -2518460
7.07 -2518240
7.17 -2518060
7.30 -2517840
7.42 -2517610
7.55 -2517340
7.67 -2517060
7.80 -2516780
7.91 -2516510
8.08 -2516110
8.20 -2515830
8.33 -2515560
8.50 -2515240
8.65 -2514970
8.78 -2514620
8.90 -2514390
9.00 -2514300
9.09 -2514220
9.16 -2514330
9.23 -2514520
9.31 -2514800
9.40 -2515070
9.50 -2515380
9.60 -2515610
9.75 -2515790
9.89 -2515910
10.10 -2516060
10.30 -2516160
10.50 -2516210
10.71 -2516240
10.90 -2516220
11.04 -2516180
11.20 -2516120
11.37 -2516060
11.62 -2516010
11.80 -2516040
12.04 -2516050
12.29 -2516110
12.55 -2516110
12.70 -2516060
12.88 -2515960
13.13 -2515790
13.38 -2515610
13.55 -2515500
13.72 -2515370
13.90 -2515270
14.06 -2515170
14.20 -2515050
14.39 -2514920
14.55 -2514840
14.73 -2514770
14.90 -2514710
15.06 -2514650
15.23 -2514550
15.40 -2514600
15.57 -2514650
15.75 -2514590
15.90 -2514570
16.05 -2514590
16.24 -2514600
16.49 -2514420
16.70 -2514360
16.91 -2514300
17.10 -2514200
17.25 -2514120
17.33 -2514070
17.45 -2514160
17.66 -2514220
17.90 -2514250
18.17 -2514290
18.40 -2514310
18.59 -2514330
18.92 -2514370
19.26 -2514470
19.50 -2514530
19.68 -2514590
19.80 -2514730
19.93 -2514900
20.10 -2514940
20.35 -2515070
20.50 -2515190
20.68 -2515370
20.85 -2515560
21.02 -2515760
21.20 -2515980
21.35 -2516190
21.50 -2516360
21.61 -2516480
21.86 -2516680
22.05 -2516830
22.19 -2516960
22.40 -2517260
22.61 -2517560
22.80 -2517680
23.01 -2517810
}\rawdata

\pgfplotsset{
  base/.style={
    scale only axis, width=502.2bp, height=111.36bp, anchor=south west,
    axis line style={line width=0.8bp},
    tick style={line width=0.8bp, black},
    tick align=outside, major tick length=3.5bp,
    scaled ticks=false,
    xtick pos=bottom, ytick pos=left,
    xticklabel style={font=\tf, inner sep=0pt, anchor=north, yshift=-3.6bp},
    yticklabel style={font=\tf, inner sep=0pt, anchor=east, xshift=-3.6bp},
    ylabel style={font=\tf},
  },
  dots/.style={only marks, mark=*, mark size=0.75bp, mark options={draw=none, fill=black}},
}

\begin{document}
\begin{tikzpicture}
\path[use as bounding box] (0,0) rectangle (648bp,504bp);

% ---- panel 1, left axis
\begin{axis}[base, at={(81bp,332.16bp)},
  xmin=-1, xmax=24, ymin=-2520673, ymax=-2513753,
  xtick={0,3,6,9,12,15,18,21},
  xticklabels={03-22 00,03-22 03,03-22 06,03-22 09,03-22 12,03-22 15,03-22 18,03-22 21},
  ytick={-2520000,-2519000,-2518000,-2517000,-2516000,-2515000,-2514000},
  yticklabels={−2520000,−2519000,−2518000,−2517000,−2516000,−2515000,−2514000},
  legend style={at={(1,0.5)}, anchor=east, xshift=-2.4bp, draw=black!20, line width=0.6bp,
    fill=white, fill opacity=0.8, text opacity=1, rounded corners=1.5bp,
    font=\fontsize{5}{6}\selectfont, inner sep=0pt,
    nodes={inner xsep=1.6bp, inner ysep=2.6bp}},
  legend image code/.code={\draw[#1] (0bp,0bp) -- (11bp,0bp);},
]
\addplot[sb, line width=0.8bp] table[x=t, y=v] {\rawdata};
\addlegendentry{Raw Data}
\end{axis}

% ---- panel 1, right axis
\begin{axis}[base, at={(81bp,332.16bp)},
  xmin=-1, xmax=24, ymin=-7154000, ymax=0,
  axis x line=none, axis y line*=right, ytick pos=right,
  ytick={-7000000,-6000000,-5000000,-4000000,-3000000,-2000000,-1000000,0},
  yticklabels={−7000000,−6000000,−5000000,−4000000,−3000000,−2000000,−1000000,0},
  yticklabel style={font=\tf, inner sep=0pt, anchor=west, xshift=3.6bp},
]
\addplot[sb, line width=0.9bp] coordinates {(-1,-2516190) (23.01,-2516190)};
\end{axis}

% ---- panel 2
\begin{axis}[base, at={(81bp,197.76bp)},
  xmin=-60, xmax=1440, ymin=-3.7699, ymax=10.0531,
  xtick={0,120,240,360,480,600,720,840,960,1080,1200,1320},
  xticklabels={},
  ytick={-2,0,2,4,6,8,10}, yticklabels={−2,0,2,4,6,8,10},
  ylabel={Azimuth Full},
  every axis y label/.style={at={(axis description cs:-0.0446,0.5)}, rotate=90, anchor=center, font=\tf},
]
\addplot[dots] table[x=t, y=f] {\azdata};
\addplot[dots] table[x=t, y expr=\thisrow{f}+6.2832] {\azdata};
\end{axis}

% ---- panel 3
\begin{axis}[base, at={(81bp,63.36bp)},
  xmin=-60, xmax=1440, ymin=-3.7699, ymax=10.0531,
  xtick={0,120,240,360,480,600,720,840,960,1080,1200,1320},
  xticklabels={Mar-22,02:00,04:00,06:00,08:00,10:00,12:00,14:00,16:00,18:00,20:00,22:00},
  ytick={-2,0,2,4,6,8,10}, yticklabels={−2,0,2,4,6,8,10},
  ylabel={Azimuth Half},
  every axis y label/.style={at={(axis description cs:-0.0446,0.5)}, rotate=90, anchor=center, font=\tf},
]
\addplot[dots] table[x=t, y=h] {\azdata};
\addplot[dots] table[x=t, y expr=\thisrow{h}+6.2832] {\azdata};
\end{axis}

\node[anchor=base, inner sep=0pt, font=\fontsize{12}{14}\selectfont] at (332.1bp,449.3bp) {ZinsC20200322.csv};
\node[anchor=base east, inner sep=0pt, font=\tf] at (583.2bp,42.7bp) {2020-Mar-22};
\end{tikzpicture}
\end{document}
